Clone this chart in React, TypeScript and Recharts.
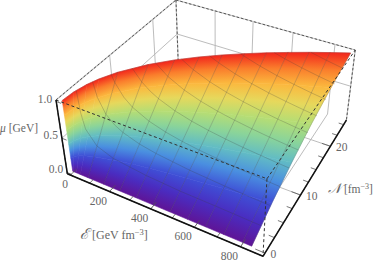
import { ScatterChart, Scatter, XAxis, YAxis } from 'recharts'

// value ranges of the bounding box (including the plot padding)
const energyRange = [-16, 893]
const densityRange = [-0.5, 26.1]
const muRange = [-0.02, 1.02]

const energyTicks = [0, 200, 400, 600, 800]
const energyMinorTicks = [100, 300, 500, 700]
const densityTicks = [0, 10, 20]
const densityMinorTicks = [2.5, 5, 7.5, 12.5, 15, 17.5, 22.5, 25]
const muTicks = [0, 0.5, 1]

// surface: N [fm^-3] read at each energy column, one row per mu level.
// the last column is the outer rim of the surface, its energy depends on mu
const energyColumns = [0, 5, 20, 40, 80, 160, 240, 320, 400, 480, 560, 640, 720, 800]
const rimEnergy = [838, 840, 845, 853, 865, 880]
const muRows = [0, 0.2, 0.4, 0.6, 0.8, 1]
const densityRows = [
  [0, 0, 0, 0, 0, 0, 0, 0, 0, 0, 0, 0, 0, 0, 0],
  [0, 0.38, 0.77, 1.09, 1.54, 2.17, 2.66, 3.08, 3.44, 3.77, 4.07, 4.35, 4.61, 4.86, 4.98],
  [0, 0.77, 1.54, 2.18, 3.08, 4.35, 5.33, 6.15, 6.88, 7.53, 8.14, 8.7, 9.23, 9.72, 10.0],
  [0, 1.15, 2.3, 3.26, 4.61, 6.52, 7.99, 9.23, 10.31, 11.3, 12.2, 13.05, 13.84, 14.59, 15.08],
  [0, 1.54, 3.07, 4.35, 6.15, 8.7, 10.66, 12.3, 13.75, 15.06, 16.27, 17.4, 18.46, 19.45, 20.25],
  [0, 1.92, 3.84, 5.44, 7.69, 10.87, 13.32, 15.38, 17.19, 18.83, 20.34, 21.75, 23.07, 24.31, 25.5],
]

// mesh lines of constant N: energy and mu along each one
const densityMesh = [2.32, 4.64, 6.95, 9.27, 11.59, 13.91, 16.23, 18.55, 20.86, 23.18]
const densityMeshEnergy = [
  [7.3, 15, 30, 80, 160, 320, 480, 640, 800, 839],
  [29, 45, 80, 120, 160, 240, 320, 480, 640, 800, 840],
  [65, 80, 120, 160, 240, 320, 400, 480, 640, 800, 842],
  [116, 160, 200, 240, 320, 400, 480, 560, 640, 800, 845],
  [182, 240, 320, 400, 480, 560, 640, 720, 800, 850],
  [262, 320, 400, 480, 560, 640, 720, 800, 855],
  [356, 400, 480, 560, 640, 720, 800, 860],
  [466, 480, 560, 640, 720, 800, 866],
  [589, 640, 720, 800, 873],
  [727, 800, 878],
]
const densityMeshMu = [
  [1, 0.7, 0.49, 0.3, 0.21, 0.15, 0.12, 0.11, 0.095, 0.093],
  [1, 0.8, 0.603, 0.493, 0.427, 0.348, 0.302, 0.246, 0.213, 0.191, 0.186],
  [1, 0.904, 0.738, 0.639, 0.522, 0.452, 0.404, 0.369, 0.32, 0.286, 0.279],
  [1, 0.853, 0.762, 0.696, 0.603, 0.539, 0.492, 0.456, 0.426, 0.381, 0.371],
  [1, 0.87, 0.754, 0.674, 0.615, 0.57, 0.533, 0.502, 0.477, 0.4625],
  [1, 0.904, 0.809, 0.739, 0.684, 0.64, 0.603, 0.572, 0.553],
  [1, 0.944, 0.862, 0.798, 0.746, 0.704, 0.668, 0.644],
  [1, 0.985, 0.912, 0.853, 0.804, 0.763, 0.733],
  [1, 0.959, 0.904, 0.858, 0.821],
  [1, 0.954, 0.909],
]

const rainbow = ['#5f1496', '#4a2cc0', '#3f4fd6', '#4a8fe0', '#62bcc4', '#8ad49a', '#b6dd74', '#e6d85c', '#fbb83e', '#fa7d2c', '#f2261c']

const W = 374
const H = 263
const TEXT = '#666'
const FONT = '"Liberation Serif", serif'

// perspective camera, fitted to the corners of the box
function project(E: number, N: number, mu: number) {
  const e = (E - energyRange[0]) / (energyRange[1] - energyRange[0])
  const n = (N - densityRange[0]) / (densityRange[1] - densityRange[0])
  const t = 1 - (mu - muRange[0]) / (muRange[1] - muRange[0])
  const w = 1 - 0.1295 * e + 0.2406 * n + 0.076 * t
  return {
    px: (56 + 176.4 * e + 162.3 * n + 16.5 * t) / w,
    py: (100 + 55.6 * e - 100 * n + 87 * t) / w,
  }
}

type P = { x: number; y: number }

function cellShape(id: string, row: number) {
  return (props: any) => {
    const [b1, b2, t2, t1] = props.points as P[]
    const ux = b2.x - b1.x + t2.x - t1.x
    const uy = b2.y - b1.y + t2.y - t1.y
    const len = Math.hypot(ux, uy) || 1
    const nx = -uy / len
    const ny = ux / len
    const mx = (b1.x + b2.x) / 2
    const my = (b1.y + b2.y) / 2
    const vx = (t1.x + t2.x) / 2 - mx
    const vy = (t1.y + t2.y) / 2 - my
    const d = vx * nx + vy * ny
    const stops = rainbow.slice(row * 2, row * 2 + 3)
    return (
      <g>
        <defs>
          <linearGradient id={id} gradientUnits="userSpaceOnUse" x1={mx} y1={my} x2={mx + nx * d} y2={my + ny * d}>
            <stop offset="0" stopColor={stops[0]} />
            <stop offset="0.5" stopColor={stops[1]} />
            <stop offset="1" stopColor={stops[2]} />
          </linearGradient>
        </defs>
        <path
          d={`M${b1.x},${b1.y}L${b2.x},${b2.y}L${t2.x},${t2.y}L${t1.x},${t1.y}Z`}
          fill={`url(#${id})`}
          stroke={`url(#${id})`}
          strokeWidth={0.6}
        />
      </g>
    )
  }
}

const noDot = () => <g />

function columnEnergy(col: number, row: number) {
  return col < energyColumns.length ? energyColumns[col] : rimEnergy[row]
}

const surfaceCells: { id: string; row: number; data: { px: number; py: number }[] }[] = []
for (let r = 0; r < muRows.length - 1; r++) {
  for (let c = 0; c < energyColumns.length; c++) {
    surfaceCells.push({
      id: `cell-${r}-${c}`,
      row: r,
      data: [
        project(columnEnergy(c, r), densityRows[r][c], muRows[r]),
        project(columnEnergy(c + 1, r), densityRows[r][c + 1], muRows[r]),
        project(columnEnergy(c + 1, r + 1), densityRows[r + 1][c + 1], muRows[r + 1]),
        project(columnEnergy(c, r + 1), densityRows[r + 1][c], muRows[r + 1]),
      ],
    })
  }
}

const [E0, E1] = energyRange
const [N0, N1] = densityRange
const [M0, M1] = muRange

const segment = (a: number[], b: number[]) => [project(a[0], a[1], a[2]), project(b[0], b[1], b[2])]

// grid lines on the box faces that lie behind the surface
const faceGrid = [
  ...energyTicks.slice(1).map((E) => segment([E, N1, M1], [E, N1, M0])),
  ...energyTicks.slice(1).map((E) => segment([E, N0, M0], [E, N1, M0])),
  ...densityTicks.slice(1).map((N) => segment([E0, N, M1], [E0, N, M0])),
  ...densityTicks.slice(1).map((N) => segment([E0, N, M0], [E1, N, M0])),
  segment([E0, N0, 0.5], [E0, N1, 0.5]),
  segment([E0, N1, 0.5], [E1, N1, 0.5]),
]

const backEdges = [
  segment([E0, N1, M1], [E0, N1, M0]),
  segment([E1, N1, M1], [E1, N1, M0]),
  segment([E0, N0, M1], [E0, N1, M1]),
  segment([E0, N1, M1], [E1, N1, M1]),
  segment([E0, N0, M1], [E0, N0, M0]),
  segment([E0, N0, M0], [E1, N0, M0]),
  segment([E1, N0, M0], [E1, N1, M0]),
]

const frontEdges = [
  segment([E0, N0, M1], [E1, N0, M1]),
  segment([E1, N0, M1], [E1, N1, M1]),
  segment([E1, N0, M1], [E1, N0, M0]),
]

const axes = [
  segment([E0, N0, M0], [E1, N0, M0]),
  segment([E1, N0, M0], [E1, N1, M0]),
  segment([E0, N0, M0], [E0, N0, M1]),
]

const tickMarks = [
  ...energyTicks.map((E) => segment([E, N0, M0], [E, N0 + 1.2, M0])),
  ...energyMinorTicks.map((E) => segment([E, N0, M0], [E, N0 + 0.7, M0])),
  ...densityTicks.map((N) => segment([E1, N, M0], [E1 - 40, N, M0])),
  ...densityMinorTicks.map((N) => segment([E1, N, M0], [E1 - 24, N, M0])),
  ...muTicks.map((m) => segment([E0, N0, m], [E0 + 24, N0, m])),
]

const energyMeshLines = energyColumns
  .map((E, c) => ({ E, c }))
  .filter(({ E }) => E >= 80)
  .map(({ E, c }) => muRows.map((m, r) => project(E, densityRows[r][c], m)))

const densityMeshLines = densityMesh.map((N, i) =>
  densityMeshEnergy[i].map((E, j) => project(E, N, densityMeshMu[i][j])),
)

const rimLine = muRows.map((m, r) => project(rimEnergy[r], densityRows[r][energyColumns.length], m))
const topLine = [
  ...energyColumns.map((E, c) => project(E, densityRows[5][c], 1)),
  project(rimEnergy[5], densityRows[5][energyColumns.length], 1),
]

const tickLabel = (dx: number, dy: number, anchor: string) => (p: any) => (
  <text x={p.cx + dx} y={p.cy + dy} textAnchor={anchor} fontSize={11.5} fontFamily={FONT} fill={TEXT}>
    {p.payload.label}
  </text>
)

const energyLabels = energyTicks.map((E) => ({ ...project(E, N0, M0), label: String(E) }))
const densityLabels = densityTicks.map((N) => ({ ...project(E1, N, M0), label: String(N) }))
const muLabels = muTicks.map((m) => ({ ...project(E0, N0, m), label: m.toFixed(1) }))

const lineSeries = (lines: { px: number; py: number }[][], key: string, style: any) =>
  lines.map((data, i) => (
    <Scatter
      key={`${key}-${i}`}
      data={data}
      line={{ fill: 'none', ...style }}
      shape={noDot}
      isAnimationActive={false}
    />
  ))

export default function App() {
  return (
    <div style={{ position: 'absolute', left: 0, top: 0, width: W, height: H, background: '#fff' }}>
      <ScatterChart width={W} height={H} margin={{ top: 0, right: 0, bottom: 0, left: 0 }}>
        <XAxis type="number" dataKey="px" domain={[0, W]} hide allowDataOverflow />
        <YAxis type="number" dataKey="py" domain={[0, H]} reversed hide allowDataOverflow />

        {lineSeries(faceGrid, 'grid', { stroke: '#b4b4b4', strokeWidth: 0.9 })}
        {lineSeries(backEdges, 'backSolid', { stroke: '#c4c4c4', strokeWidth: 1.2 })}
        {lineSeries(backEdges, 'back', { stroke: '#555', strokeWidth: 1, strokeDasharray: '2.5 2' })}

        {surfaceCells.map((cell) => (
          <Scatter
            key={cell.id}
            data={cell.data}
            line={cellShape(cell.id, cell.row)}
            shape={noDot}
            isAnimationActive={false}
          />
        ))}

        {lineSeries(energyMeshLines, 'meshE', { stroke: 'rgba(60,60,60,0.3)', strokeWidth: 0.8 })}
        {lineSeries(densityMeshLines, 'meshN', { stroke: 'rgba(60,60,60,0.3)', strokeWidth: 0.8 })}
        {lineSeries([rimLine, topLine], 'rim', { stroke: 'rgba(90,90,90,0.35)', strokeWidth: 0.7 })}

        {lineSeries(frontEdges, 'front', { stroke: '#333', strokeWidth: 1, strokeDasharray: '3 2.5' })}
        {lineSeries(tickMarks, 'tick', { stroke: '#555', strokeWidth: 0.8 })}
        {lineSeries(axes, 'axis', { stroke: '#111', strokeWidth: 1.5 })}

        <Scatter data={energyLabels} shape={tickLabel(-2.5, 13, 'end')} isAnimationActive={false} />
        <Scatter data={densityLabels} shape={tickLabel(5.5, 4.5, 'start')} isAnimationActive={false} />
        <Scatter data={muLabels} shape={tickLabel(-4, 1, 'end')} isAnimationActive={false} />

        <text x={80} y={239} fontSize={12} fontFamily={FONT} fill={TEXT}>
          <tspan fontSize={15} fontStyle="italic">ℰ</tspan> [GeV fm<tspan dy={-4} fontSize={8.5}>−3</tspan><tspan dy={4}>]</tspan>
        </text>
        <text x={328} y={193} fontSize={11.5} fontFamily={FONT} fill={TEXT}>
          <tspan fontSize={14} fontStyle="italic">𝒩</tspan> [fm<tspan dy={-4} fontSize={8}>−3</tspan><tspan dy={4}>]</tspan>
        </text>
        <text x={0} y={132} fontSize={11.5} fontFamily={FONT} fill={TEXT}>
          <tspan fontStyle="italic">μ</tspan> [GeV]
        </text>
      </ScatterChart>
    </div>
  )
}
